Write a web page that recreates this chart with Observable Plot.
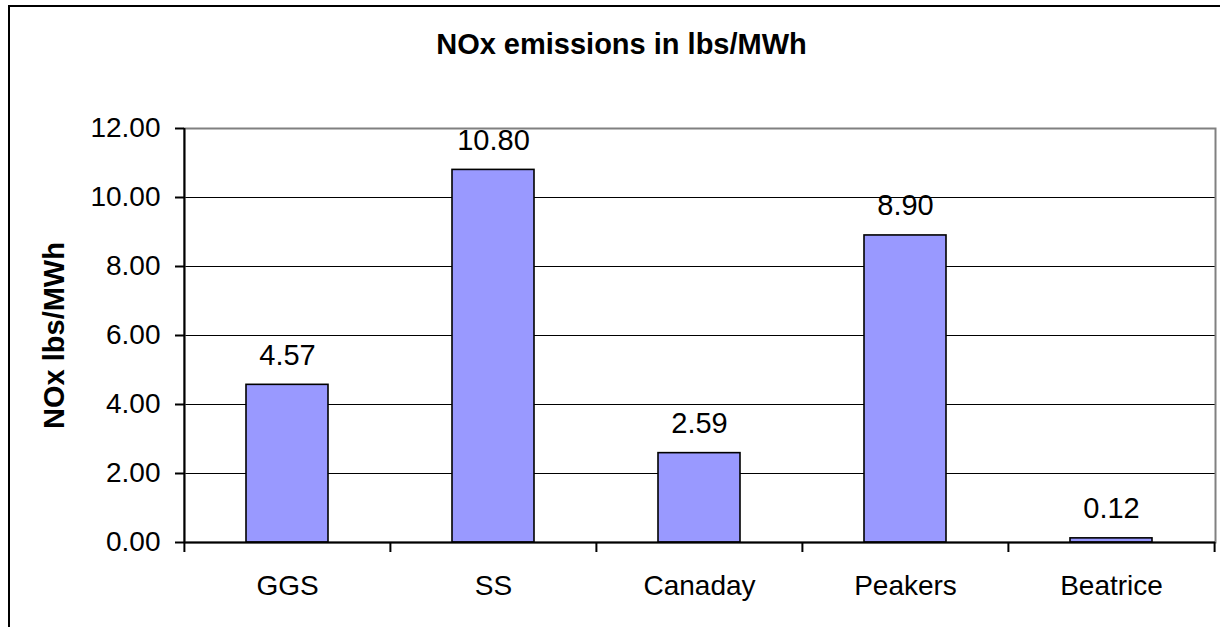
<!DOCTYPE html>
<html>
<head>
<meta charset="utf-8">
<script src="https://cdn.jsdelivr.net/npm/d3@7"></script>
<script src="https://cdn.jsdelivr.net/npm/@observablehq/plot@0.6"></script>
<style>
  html, body { margin: 0; padding: 0; background: #fff; }
  #wrap { position: relative; width: 1229px; height: 627px; overflow: hidden; font-family: "Liberation Sans", Arial, sans-serif; }
  #border { position: absolute; left: 8px; top: 5px; width: 1212px; height: 700px; border-top: 2px solid #000; border-left: 2px solid #000; box-sizing: border-box; }
  #chart { position: absolute; left: 0; top: 0; }
  #chart svg { font-family: "Liberation Sans", Arial, sans-serif; }
  g[aria-label="y-axis label"] text { font-weight: bold; font-size: 29px; }
</style>
</head>
<body>
<div id="wrap">
  <div id="border"></div>
  <div id="chart"></div>
</div>
<script>
const categories = ["GGS", "SS", "Canaday", "Peakers", "Beatrice"];
const values = [4.57, 10.80, 2.59, 8.90, 0.12];
const yTicks = [0, 2, 4, 6, 8, 10, 12];
const titleText = "NOx emissions in lbs/MWh";
const yLabel = "NOx lbs/MWh";

const data = categories.map((c, i) => ({ cat: c, val: values[i] }));

const W = 1229, H = 627;
const mL = 184, mR = 14, mT = 128, mB = 85;
const step = (W - mL - mR) / categories.length;
const fmt = d3.format(".2f");

const chart = Plot.plot({
  width: W,
  height: H,
  marginLeft: mL,
  marginRight: mR,
  marginTop: mT,
  marginBottom: mB,
  style: { fontSize: "28px", fontFamily: "Liberation Sans, Arial, sans-serif", background: "transparent", color: "#000" },
  x: { domain: categories, paddingInner: 0.6, paddingOuter: 0.3, align: 0.5 },
  y: { domain: [0, 12] },
  marks: [
    Plot.gridY(yTicks.filter(d => d > 0 && d < 12), { stroke: "#000", strokeOpacity: 1, strokeWidth: 1 }),
    Plot.frame({ stroke: "#808080", strokeWidth: 2 }),
    Plot.barY(data, { x: "cat", y: "val", fill: "#9999FF", stroke: "#000", strokeWidth: 1.6 }),
    Plot.ruleY([0], { stroke: "#000", strokeWidth: 2 }),
    Plot.ruleX([categories[0]], { x: d => d, y1: yTicks[0], y2: yTicks[yTicks.length - 1], dx: -step / 2, stroke: "#000", strokeWidth: 2 }),
    Plot.axisY({ ticks: yTicks, tickFormat: fmt, tickSize: 9, tickPadding: 15, strokeWidth: 2, stroke: "#000", label: yLabel, labelAnchor: "center", labelArrow: "none", labelOffset: 141 }),
    Plot.axisX({ tickSize: 0, tickPadding: 33, label: null }),
    Plot.axisX({ tickSize: 10, text: null, label: null, dx: -step / 2, strokeWidth: 2, stroke: "#000" }),
    Plot.axisX({ ticks: [categories[categories.length - 1]], tickSize: 10, text: null, label: null, dx: step / 2, strokeWidth: 2, stroke: "#000" }),
    Plot.text(data, { x: "cat", y: "val", text: d => fmt(d.val), dy: -20, lineAnchor: "bottom", fontSize: 29, fill: "#000" }),
    Plot.text([titleText], { frameAnchor: "top", dx: 621 - (mL + (W - mL - mR) / 2), dy: -75, lineAnchor: "bottom", fontSize: 29, fontWeight: "bold", fill: "#000" })
  ]
});

document.getElementById("chart").appendChild(chart);
</script>
</body>
</html>
